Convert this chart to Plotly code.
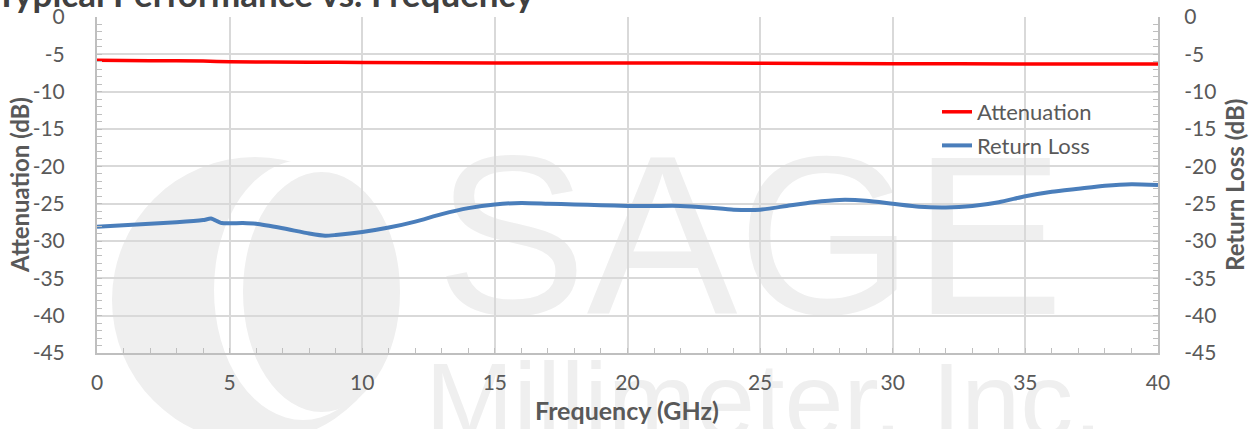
import plotly.graph_objects as go

# ---- data ----
att_freq = [0, 2, 4, 5, 8, 10, 15, 20, 25, 30, 35, 40]
att_db = [-5.8, -5.85, -5.9, -6.0, -6.05, -6.1, -6.15, -6.15, -6.2, -6.25, -6.3, -6.3]

rl_freq = [0, 1, 2, 3, 4, 4.3, 4.7, 5.5, 6, 7, 8, 8.6, 9, 10, 11, 12, 13, 14, 15, 16,
           17, 18, 19, 20, 21, 22, 23, 24, 25, 26, 27, 28, 29, 30, 31, 32, 33, 34,
           35, 36, 37, 38, 39, 40]
rl_db = [-28.1, -27.9, -27.7, -27.5, -27.2, -27.0, -27.6, -27.6, -27.7, -28.3, -29.0,
         -29.3, -29.2, -28.8, -28.2, -27.4, -26.4, -25.6, -25.1, -24.9,
         -25.0, -25.1, -25.2, -25.3, -25.3, -25.3, -25.5, -25.8, -25.8, -25.3, -24.8,
         -24.5, -24.6, -25.0, -25.4, -25.5, -25.3, -24.8,
         -24.0, -23.4, -23.0, -22.6, -22.4, -22.5]

x_ticks = [0, 5, 10, 15, 20, 25, 30, 35, 40]
y_ticks = [0, -5, -10, -15, -20, -25, -30, -35, -40, -45]
y_tick_labels = ["0", "-5", "-10", "-15", "-20", "-25", "-30", "-35", "-40", "-45"]

TXT = "#595959"
GRID = "#d9d9d9"
AXL = "#bfbfbf"
WM = "#efefef"
FONT = "Lato"

L, R, T, B = 97, 96, 17, 76
PW, PH = 1254 - L - R, 429 - T - B


def px(x):
    return (x - L) / PW


def py(y):
    return (429 - B - y) / PH


fig = go.Figure()
fig.add_trace(go.Scatter(x=att_freq, y=att_db, name="Attenuation", mode="lines",
                         line=dict(color="#ff0000", width=3.5, shape="spline", smoothing=0.6),
                         legendgroup="a"))
fig.add_trace(go.Scatter(x=rl_freq, y=rl_db, name="Return Loss", mode="lines",
                         line=dict(color="#4a7ebb", width=4, shape="spline", smoothing=0.6),
                         yaxis="y2", legendgroup="b"))

shapes = [
    # logo watermark (approximation)
    dict(type="circle", xref="paper", yref="paper", layer="below",
         x0=px(112), x1=px(398), y0=py(443), y1=py(157),
         fillcolor=WM, line=dict(width=0)),
    dict(type="circle", xref="paper", yref="paper", layer="below",
         x0=px(214), x1=px(392), y0=py(420), y1=py(160),
         fillcolor="white", line=dict(width=0)),
    dict(type="circle", xref="paper", yref="paper", layer="below",
         x0=px(243), x1=px(400), y0=py(412), y1=py(172),
         fillcolor=WM, line=dict(width=0)),
    # text watermark
    dict(type="rect", xref="paper", yref="paper", layer="below",
         x0=px(400), x1=px(1100), y0=py(309), y1=py(119),
         fillcolor="rgba(0,0,0,0)", line=dict(width=0),
         label=dict(text="SAGE", textposition="middle center",
                    font=dict(family="Liberation Sans", size=226, color=WM))),
    dict(type="rect", xref="paper", yref="paper", layer="below",
         x0=px(414), x1=px(1114), y0=py(435), y1=py(345),
         fillcolor="rgba(0,0,0,0)", line=dict(width=0),
         label=dict(text="Millimeter, Inc.", textposition="middle center",
                    font=dict(family="Liberation Sans", size=106, color=WM))),
]

axis_common = dict(ticks="inside", ticklen=5, tickcolor=AXL, zeroline=False,
                   showline=True, linecolor=AXL, linewidth=2, automargin=False,
                   tickfont=dict(size=21, color=TXT))

fig.update_layout(
    width=1254, height=429,
    margin=dict(l=L, r=R, t=T, b=B),
    paper_bgcolor="white", plot_bgcolor="rgba(0,0,0,0)",
    font=dict(family=FONT, size=21, color=TXT),
    shapes=shapes,
    showlegend=True,
    legend=dict(x=px(937), y=py(91), xanchor="left", yanchor="top",
                bgcolor="rgba(0,0,0,0)", font=dict(size=22, color=TXT),
                tracegroupgap=2),
    xaxis=dict(range=[0, 40], tickvals=x_ticks, showgrid=True, gridcolor=GRID, gridwidth=1.5,
               minor=dict(dtick=1, ticks="inside", ticklen=5, tickcolor=AXL, showgrid=False),
               ticklabelstandoff=10, **axis_common),
    yaxis=dict(range=[-45, 0], tickvals=y_ticks, ticktext=y_tick_labels,
               showgrid=True, gridcolor=GRID, gridwidth=1.5,
               minor=dict(dtick=1, ticks="inside", ticklen=5, tickcolor=AXL, showgrid=False),
               ticklabelstandoff=26, **axis_common),
    yaxis2=dict(range=[-45, 0], tickvals=y_ticks, ticktext=y_tick_labels,
                overlaying="y", side="right", showgrid=False,
                minor=dict(dtick=1, ticks="inside", ticklen=5, tickcolor=AXL, showgrid=False),
                ticklabelstandoff=20, **axis_common),
    annotations=[
        dict(text="<b>Typical Performance vs. Frequency</b>", xref="paper", yref="paper",
             x=px(-6), y=py(16), xanchor="left", yanchor="bottom", showarrow=False,
             font=dict(family=FONT, size=35, color="#404040")),
        dict(text="<b>Frequency (GHz)</b>", xref="paper", yref="paper",
             x=px(627), y=py(410), xanchor="center", yanchor="middle", showarrow=False,
             font=dict(family=FONT, size=25, color=TXT)),
        dict(text="<b>Attenuation (dB)</b>", xref="paper", yref="paper", textangle=-90,
             x=px(19), y=py(185), xanchor="center", yanchor="middle", showarrow=False,
             font=dict(family=FONT, size=24, color=TXT)),
        dict(text="<b>Return Loss (dB)</b>", xref="paper", yref="paper", textangle=-90,
             x=px(1234), y=py(185), xanchor="center", yanchor="middle", showarrow=False,
             font=dict(family=FONT, size=24, color=TXT)),
    ],
)

fig.write_html("out.html", config={"displayModeBar": False},
               post_script="document.body.style.margin='0';")
